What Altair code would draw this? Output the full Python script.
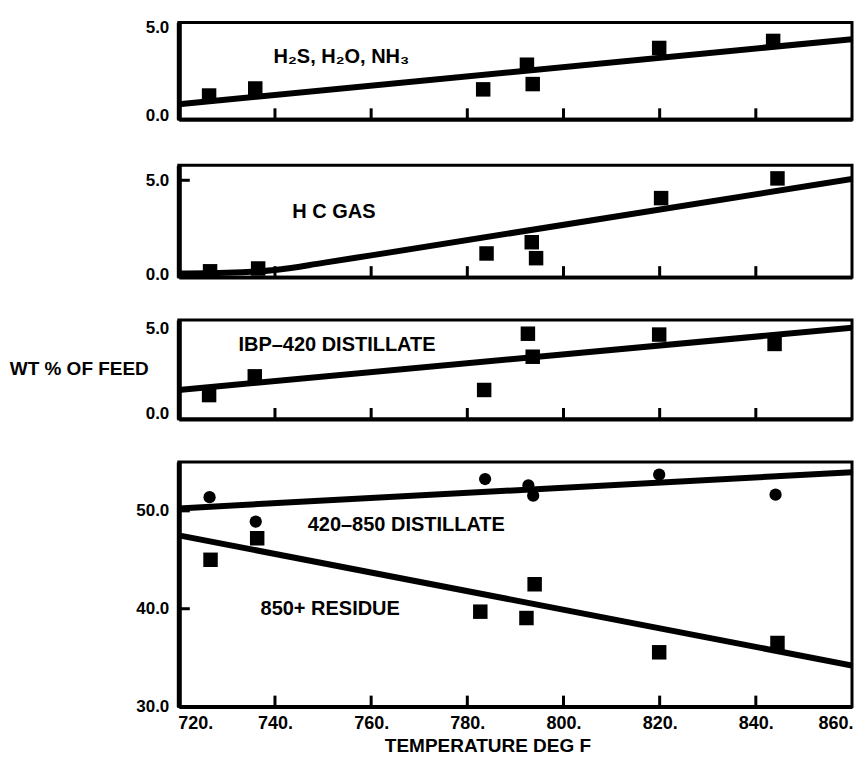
import altair as alt
import pandas as pd

LABELFONT = "Liberation Sans, Arial, sans-serif"
TICKFONT = "Liberation Sans, Arial, sans-serif"

# ---- data -------------------------------------------------------------
x_tick_marks = [740, 760, 780, 800, 820, 840]
x_label_vals = [720, 740, 760, 780, 800, 820, 840, 860]

# Panel 1: H2S, H2O, NH3
p1_temp = [726.3, 735.9, 783.3, 792.4, 793.6, 819.9, 843.6]
p1_val = [1.15, 1.55, 1.5, 2.9, 1.8, 3.85, 4.25]
p1_fit_temp = [720, 860]
p1_fit_val = [0.65, 4.35]

# Panel 2: H C GAS
p2_temp = [726.5, 736.5, 784.0, 793.4, 794.3, 820.3, 844.5]
p2_val = [0.15, 0.3, 1.1, 1.7, 0.85, 4.05, 5.1]
p2_fit_temp = [720, 730, 740, 750, 760, 860]
p2_fit_val = [0.03, 0.07, 0.22, 0.6, 1.0, 5.07]

# Panel 3: IBP-420 distillate
p3_temp = [726.3, 735.8, 783.5, 792.6, 793.6, 819.9, 843.9]
p3_val = [1.1, 2.2, 1.4, 4.7, 3.35, 4.65, 4.1]
p3_fit_temp = [720, 860]
p3_fit_val = [1.4, 5.05]

# Panel 4: 420-850 distillate (circles) and 850+ residue (squares)
p4d_temp = [726.4, 736.0, 783.7, 792.7, 793.7, 819.9, 844.1]
p4d_val = [51.4, 48.9, 53.25, 52.6, 51.55, 53.7, 51.65]
p4d_fit_temp = [720, 860]
p4d_fit_val = [50.25, 53.95]

p4r_temp = [726.6, 736.3, 782.7, 792.3, 794.0, 819.9, 844.5]
p4r_val = [45.0, 47.2, 39.7, 39.05, 42.5, 35.55, 36.5]
p4r_fit_temp = [720, 860]
p4r_fit_val = [47.5, 34.2]

WIDTH = 674
XSCALE = alt.Scale(domain=[720, 860], nice=False, zero=False)


def x_axis(bottom):
    if bottom:
        return alt.Axis(values=x_label_vals, labelExpr="datum.value + '.'",
                        labelFont=TICKFONT, labelFontSize=18, labelFontWeight="bold",
                        labelColor="black", labelPadding=8, labelFlush=True,
                        labelFlushOffset=1, labelOverlap=False, ticks=False,
                        tickSize=0, grid=False, domainColor="black", domainWidth=4,
                        title="TEMPERATURE DEG F", titleFont=LABELFONT, titleFontSize=19,
                        titleFontWeight="bold", titleColor="black",
                        titleX=309, titleY=39, titleAlign="center",
                        titleBaseline="middle")
    return alt.Axis(labels=False, ticks=False, tickSize=0, grid=False, title=None,
                    domainColor="black", domainWidth=4)


def y_axis(vals):
    return alt.Axis(values=vals, format=".1f", labelFont=TICKFONT, labelFontSize=17,
                    labelFontWeight="bold", labelColor="black", labelPadding=10,
                    labelOverlap=False, labelFlush=False, ticks=False, tickSize=0,
                    grid=False, title=None, domainColor="black", domainWidth=5)


def panel(series, fits, labels, ydomain, yvals, height, ytick_vals, bottom=False,
          extra_text=None):
    yscale = alt.Scale(domain=ydomain, nice=False, zero=False)
    X = lambda: alt.X("t:Q", scale=XSCALE, axis=x_axis(bottom))
    Y = lambda: alt.Y("v:Q", scale=yscale, axis=y_axis(yvals))
    layers = []
    for temps, vals in fits:
        df = pd.DataFrame({"t": temps, "v": vals})
        layers.append(alt.Chart(df).mark_line(color="black", strokeWidth=6, clip=True,
                                              interpolate="monotone")
                      .encode(x=X(), y=Y()))
    for temps, vals, shape, size in series:
        df = pd.DataFrame({"t": temps, "v": vals})
        layers.append(alt.Chart(df).mark_point(shape=shape, filled=True, size=size,
                                               color="black", opacity=1)
                      .encode(x=X(), y=Y()))
    # inward x ticks
    layers.append(alt.Chart(pd.DataFrame({"t": x_tick_marks}))
                  .mark_rule(color="black", strokeWidth=3)
                  .encode(x=X(), y=alt.value(height), y2=alt.value(height - 11)))
    if ytick_vals:
        layers.append(alt.Chart(pd.DataFrame({"v": ytick_vals}))
                      .mark_rule(color="black", strokeWidth=3)
                      .encode(y=Y(), x=alt.value(0), x2=alt.value(11)))
    for text, tx, ty in labels:
        layers.append(alt.Chart(pd.DataFrame({"label": [text]}))
                      .mark_text(align="left", baseline="middle", font=LABELFONT,
                                 fontSize=20, fontWeight="bold", color="black")
                      .encode(x=alt.datum(tx, scale=XSCALE), y=alt.datum(ty),
                              text="label:N"))
    if extra_text:
        text, px, ty = extra_text
        layers.append(alt.Chart(pd.DataFrame({"label": [text]}))
                      .mark_text(align="right", baseline="middle", font=LABELFONT,
                                 fontSize=19, fontWeight="bold", color="black")
                      .encode(x=alt.value(px), y=alt.datum(ty), text="label:N"))
    return alt.layer(*layers).properties(width=WIDTH, height=height)


p1 = panel([(p1_temp, p1_val, "square", 210)], [(p1_fit_temp, p1_fit_val)],
           [("H\u2082S, H\u2082O, NH\u2083", 739.7, 3.32)],
           [-0.2, 5.3], [0, 5], 97, [])
p2 = panel([(p2_temp, p2_val, "square", 210)], [(p2_fit_temp, p2_fit_val)],
           [("H C GAS", 743.6, 3.3)],
           [-0.16, 5.8], [0, 5], 112, [5])
p3 = panel([(p3_temp, p3_val, "square", 210)], [(p3_fit_temp, p3_fit_val)],
           [("IBP\u2013420 DISTILLATE", 732.4, 4.04)],
           [-0.3, 5.5], [0, 5], 99, [],
           extra_text=("WT % OF FEED", -30, 2.63))
p4 = panel([(p4d_temp, p4d_val, "circle", 150), (p4r_temp, p4r_val, "square", 210)],
           [(p4d_fit_temp, p4d_fit_val), (p4r_fit_temp, p4r_fit_val)],
           [("420\u2013850 DISTILLATE", 746.8, 48.57), ("850+ RESIDUE", 737.0, 40.0)],
           [30, 55], [30, 40, 50], 245, [40, 50], bottom=True)

inner = alt.vconcat(p2, p3, p4, spacing=43, bounds="flush")
chart = alt.vconcat(p1, inner, spacing=46, bounds="flush").properties(
    padding={"left": 0, "top": 8, "right": 0, "bottom": 0},
    background="white",
).configure_view(stroke="black", strokeWidth=3)

chart.save("out.html", embed_options={"renderer": "svg", "actions": False})
